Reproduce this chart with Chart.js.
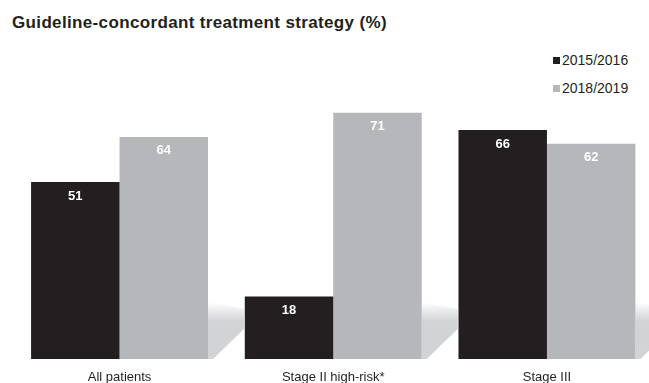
<!DOCTYPE html>
<html>
<head>
<meta charset="utf-8">
<script src="https://cdn.jsdelivr.net/npm/chart.js@4"></script>
<style>
    html, body { margin: 0; padding: 0; background: #fff; overflow: hidden; }
    body { width: 649px; height: 383px; position: relative; font-family: "Liberation Sans", Arial, sans-serif; color: #231f20; }
    #titulo { position: absolute; left: 12px; top: 14px; font-size: 17px; line-height: 17px; letter-spacing: 0.35px; font-weight: bold; white-space: nowrap; }
    #leyenda { position: absolute; left: 553px; top: 52px; font-size: 14px; }
    #leyenda div { height: 28px; line-height: 16px; white-space: nowrap; }
    #leyenda span { display: inline-block; width: 7px; height: 7px; margin-right: 2px; vertical-align: 1px; }
    #lienzo { position: absolute; left: 0; top: 0; }
</style>
</head>
<body>
<div id="titulo">Guideline-concordant treatment strategy (%)</div>
<div id="leyenda"></div>
<div id="lienzo"><canvas id="graficoTratamiento" width="660" height="383"></canvas></div>
<script>
// Datos
const categorias = ["All patients", "Stage II high-risk*", "Stage III"];
const periodos = ["2015/2016", "2018/2019"];
const valores2015 = [51, 18, 66];
const valores2018 = [64, 71, 62];
const colores = ["#231f20", "#b6b7bb"];

// Leyenda en HTML
const leyenda = document.getElementById("leyenda");
periodos.forEach((p, i) => {
    const fila = document.createElement("div");
    fila.innerHTML = `<span style="background:${colores[i]}"></span>${p}`;
    leyenda.appendChild(fila);
});

// Sombra gris detrás de cada grupo de barras
const sombraPlugin = {
    id: "sombra",
    beforeDatasetsDraw(chart) {
        const ctx = chart.ctx;
        const base = chart.chartArea.bottom;
        const meta = chart.getDatasetMeta(1);
        meta.data.forEach((bar) => {
            const r = bar.x + bar.width / 2;
            const grad = ctx.createLinearGradient(0, base - 57, 0, base - 38);
            grad.addColorStop(0, "rgba(210,211,213,0)");
            grad.addColorStop(1, "rgba(210,211,213,1)");
            ctx.save();
            ctx.fillStyle = grad;
            ctx.beginPath();
            ctx.moveTo(r, base - 57);
            ctx.lineTo(r + 36, base - 50);
            ctx.lineTo(r + 36, base - 30);
            ctx.lineTo(r + 5, base);
            ctx.lineTo(r, base);
            ctx.closePath();
            ctx.fill();
            ctx.restore();
        });
    }
};

// Etiquetas de valores dentro de las barras
const etiquetasPlugin = {
    id: "etiquetas",
    afterDatasetsDraw(chart) {
        const ctx = chart.ctx;
        ctx.save();
        ctx.font = "bold 13px 'Liberation Sans', Arial, sans-serif";
        ctx.fillStyle = "#ffffff";
        ctx.textAlign = "center";
        ctx.textBaseline = "middle";
        chart.data.datasets.forEach((ds, i) => {
            chart.getDatasetMeta(i).data.forEach((bar, j) => {
                ctx.fillText(ds.data[j], bar.x, bar.y + 14);
            });
        });
        ctx.restore();
    }
};

const ctx = document.getElementById("graficoTratamiento").getContext("2d");
new Chart(ctx, {
    type: "bar",
    data: {
        labels: categorias,
        datasets: [
            { label: periodos[0], data: valores2015, backgroundColor: colores[0] },
            { label: periodos[1], data: valores2018, backgroundColor: colores[1] }
        ]
    },
    options: {
        responsive: false,
        animation: false,
        layout: { padding: { left: 12.7, right: 6.2, top: 12, bottom: 0 } },
        datasets: { bar: { categoryPercentage: 0.828, barPercentage: 1 } },
        plugins: {
            legend: { display: false },
            tooltip: { enabled: false }
        },
        scales: {
            x: {
                grid: { display: false },
                border: { display: false },
                ticks: {
                    color: "#231f20",
                    padding: 3,
                    font: { family: "'Liberation Sans', Arial, sans-serif", size: 13 }
                },
                afterFit(scale) { scale.height = 24; }
            },
            y: {
                display: false,
                min: 0,
                max: 100
            }
        }
    },
    plugins: [sombraPlugin, etiquetasPlugin]
});
</script>
</body>
</html>
